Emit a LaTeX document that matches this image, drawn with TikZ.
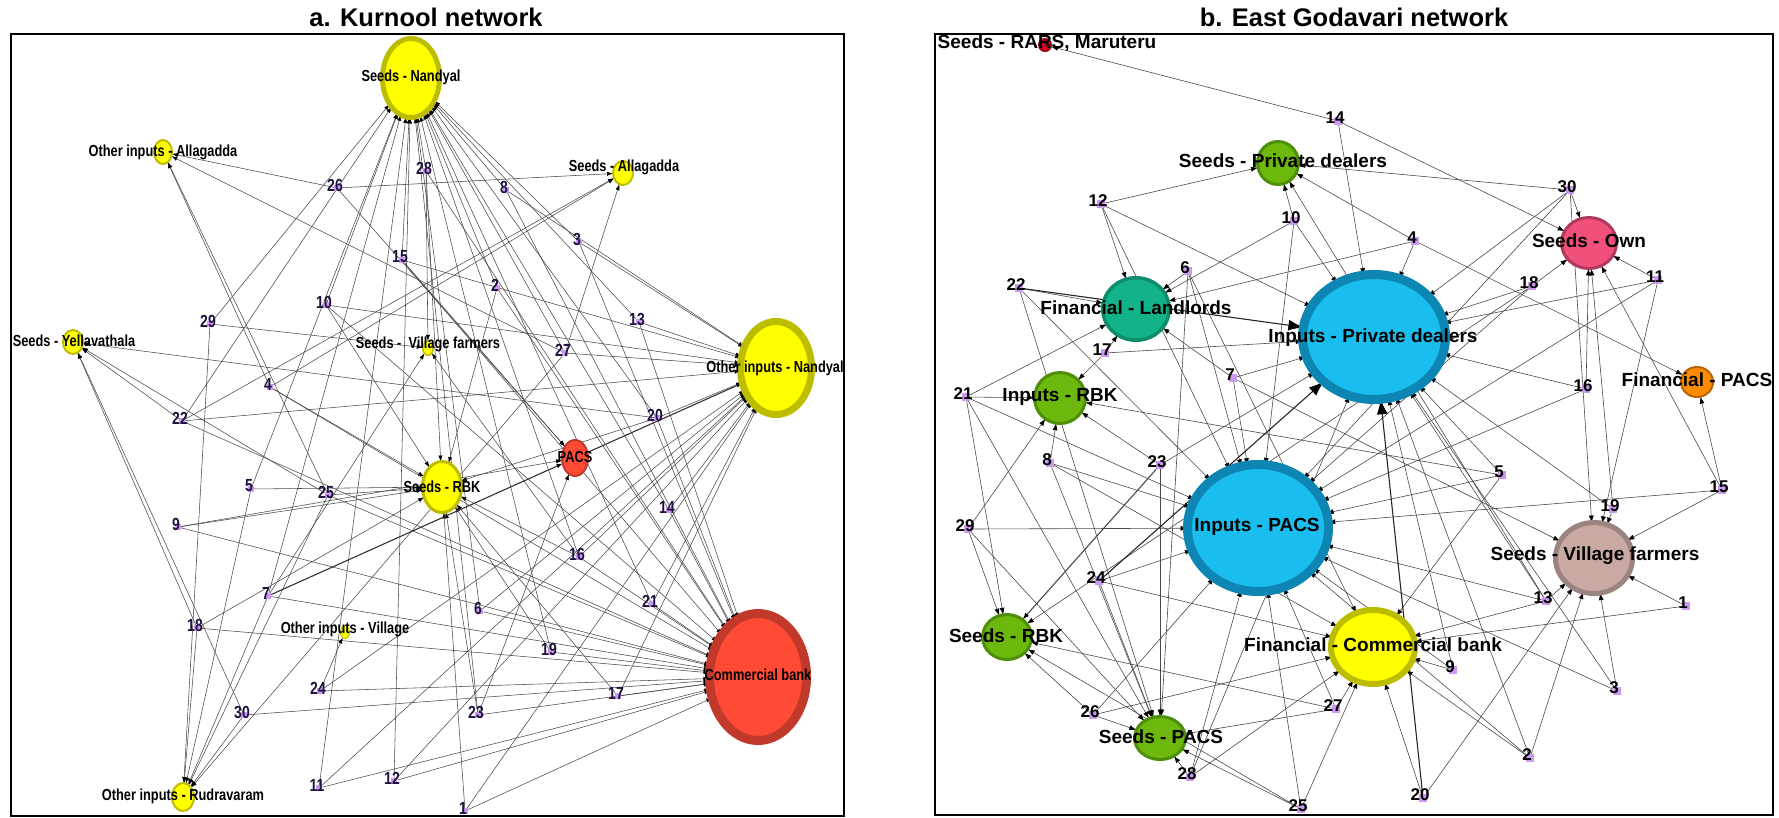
\documentclass[tikz,border=0pt]{standalone}
\usepackage{fontspec}
\setmainfont{Liberation Sans}
\newfontfamily\narrowfont[FakeStretch=0.8]{Liberation Sans}
\usetikzlibrary{shapes.geometric,arrows.meta}
\pgfdeclarelayer{edgelayer}
\pgfsetlayers{edgelayer,main}
\definecolor{yel}{HTML}{FFFF00}
\definecolor{olive}{HTML}{BDBD00}
\definecolor{redf}{HTML}{FF4B35}
\definecolor{redr}{HTML}{C0392B}
\definecolor{bluef}{HTML}{19BEEE}
\definecolor{bluer}{HTML}{0E86B3}
\definecolor{tealf}{HTML}{13B38A}
\definecolor{tealr}{HTML}{0E8C6C}
\definecolor{greenf}{HTML}{6CB80C}
\definecolor{greenr}{HTML}{4E8F0A}
\definecolor{pinkf}{HTML}{F0507A}
\definecolor{pinkr}{HTML}{B03A5E}
\definecolor{orf}{HTML}{FF8C00}
\definecolor{orr}{HTML}{B86400}
\definecolor{rosef}{HTML}{C9A9A3}
\definecolor{roser}{HTML}{9B8381}
\definecolor{rarsf}{HTML}{CC0022}
\definecolor{rarsr}{HTML}{990018}
\definecolor{violetm}{HTML}{CC99F0}
\definecolor{numcol}{HTML}{1F1240}
\definecolor{edgegray}{HTML}{4A4A4A}
\newcommand\mkhub[8]{\node[hubst, line width=#6pt, draw=#8, fill=#7,
  minimum width={(2*#4-#6)*1pt}, minimum height={(2*#5-#6)*1pt}] (#1) at (#2,#3) {};}
\newcommand\farmA[3]{\node[fa] (a#1) at (#2+2,#3+3) {};\node[na] (a#1l) at (#2,#3) {#1};}
\newcommand\farmB[3]{\node[fb] (b#1) at (#2+3,#3+3) {};\node[nb] (b#1l) at (#2,#3) {#1};}
\tikzset{
 hubst/.style={ellipse, inner sep=0pt, outer sep=0pt},
 llab/.style={font=\narrowfont\bfseries\fontsize{16}{16}\selectfont, text=black, inner sep=0pt},
 rlab/.style={font=\bfseries\fontsize{19}{19}\selectfont, text=black, inner sep=0pt},
 fa/.style={rectangle, fill=violetm, minimum size=6pt, inner sep=0pt},
 fb/.style={rectangle, fill=violetm, minimum size=8pt, inner sep=0pt},
 na/.style={font=\narrowfont\bfseries\fontsize{17.5}{17.5}\selectfont, text=numcol, inner sep=0pt},
 nb/.style={font=\bfseries\fontsize{17}{17}\selectfont, text=black, inner sep=0pt},
 ea/.style={draw=edgegray, line width=0.55pt, -{Latex[length=6pt,width=4.2pt,color=black]}},
 eb/.style={draw=edgegray, line width=0.6pt, -{Latex[length=7pt,width=5pt,color=black]}},
 eathick/.style={draw=black!80, line width=1.1pt, -{Latex[length=6pt,width=4.5pt,color=black]}},
 ebthick/.style={draw=black!85, line width=1.1pt, -{Latex[length=15pt,width=11pt,color=black]}},
 frame/.style={draw=black, line width=1.5pt},
 ttl/.style={font=\bfseries\fontsize{25.5}{26}\selectfont, inner sep=0pt}
}
\begin{document}
\begin{tikzpicture}[x=1pt,y=-1pt]
\useasboundingbox (0,0) rectangle (1779,817);
\begin{pgfonlayer}{edgelayer}
\fill[white] (0,0) rectangle (1779,817);
\end{pgfonlayer}
\node[ttl] (ta) at (426,17) {a. Kurnool network};
\node[ttl] (tb) at (1354,17) {b. East Godavari network};
\draw[frame] (11,34) rectangle (844,816);
\draw[frame] (935,34) rectangle (1773,815);
% ---------- left hubs
\mkhub{SN}{411}{78}{31}{42}{5}{yel}{olive}
\mkhub{OIA}{163}{152}{10}{13}{2}{yel}{olive}
\mkhub{SA}{623}{173}{11}{13}{2}{yel}{olive}
\mkhub{SY}{73}{342}{11}{13}{2}{yel}{olive}
\mkhub{SV}{428}{348}{6}{8}{1.5}{yel}{olive}
\mkhub{ON}{776}{368}{39}{50}{7}{yel}{olive}
\mkhub{PACS}{575}{458}{14}{19}{2}{redf}{redr}
\mkhub{RBK}{442}{487}{21}{27}{3}{yel}{olive}
\mkhub{CB}{758}{677}{53}{68}{9}{redf}{redr}
\mkhub{OV}{345}{632}{5}{7}{1}{yel}{olive}
\mkhub{OR}{183}{797}{12}{15}{2}{yel}{olive}
% ---------- left farmers
\farmA{1}{463}{808}\farmA{2}{495}{285}\farmA{3}{577}{239}\farmA{4}{268}{384}
\farmA{5}{249}{486}\farmA{6}{478}{608}\farmA{7}{266}{593}\farmA{8}{504}{187}
\farmA{9}{176}{524}\farmA{10}{324}{302}\farmA{11}{317}{785}\farmA{12}{392}{778}
\farmA{13}{637}{319}\farmA{14}{667}{507}\farmA{15}{400}{257}\farmA{16}{577}{554}
\farmA{17}{616}{693}\farmA{18}{195}{625}\farmA{19}{549}{649}\farmA{20}{655}{415}
\farmA{21}{650}{601}\farmA{22}{180}{418}\farmA{23}{476}{712}\farmA{24}{318}{688}
\farmA{25}{326}{492}\farmA{26}{335}{185}\farmA{27}{563}{350}\farmA{28}{424}{168}
\farmA{29}{208}{321}\farmA{30}{242}{712}
% ---------- right hubs
\mkhub{RARS}{1045}{45}{7}{7}{1.5}{rarsf}{rarsr}
\mkhub{SPD}{1278}{163}{22}{23}{3}{greenf}{greenr}
\mkhub{FL}{1136}{309}{35}{33}{3.5}{tealf}{tealr}
\mkhub{IRBK}{1060}{398}{27}{27}{3}{greenf}{greenr}
\mkhub{IPD}{1374}{337}{76}{67}{9}{bluef}{bluer}
\mkhub{SO}{1589}{243}{29}{27}{3}{pinkf}{pinkr}
\mkhub{FPACS}{1697}{382}{17}{16}{2}{orf}{orr}
\mkhub{IPACS}{1258}{528}{75}{68}{9}{bluef}{bluer}
\mkhub{SRBK}{1007}{637}{26}{24}{3}{greenf}{greenr}
\mkhub{SPACS}{1160}{738}{27}{23}{3}{greenf}{greenr}
\mkhub{FCB}{1373}{647}{45}{40}{6}{yel}{olive}
\mkhub{SVF}{1594}{558}{41}{38}{5}{rosef}{roser}
% ---------- right farmers
\farmB{1}{1683}{603}\farmB{2}{1527}{755}\farmB{3}{1614}{688}\farmB{4}{1412}{238}
\farmB{5}{1499}{472}\farmB{6}{1185}{268}\farmB{7}{1230}{375}\farmB{8}{1047}{460}
\farmB{9}{1450}{667}\farmB{10}{1291}{218}\farmB{11}{1655}{277}\farmB{12}{1098}{201}
\farmB{13}{1543}{598}\farmB{14}{1335}{118}\farmB{15}{1719}{487}\farmB{16}{1583}{386}
\farmB{17}{1102}{350}\farmB{18}{1529}{283}\farmB{19}{1610}{506}\farmB{20}{1420}{795}
\farmB{21}{963}{394}\farmB{22}{1016}{285}\farmB{23}{1157}{462}\farmB{24}{1096}{578}
\farmB{25}{1298}{806}\farmB{26}{1090}{712}\farmB{27}{1333}{706}\farmB{28}{1187}{774}
\farmB{29}{965}{526}\farmB{30}{1567}{187}
% ---------- edges
\begin{pgfonlayer}{edgelayer}
\foreach \f/\tl in {1/{CB,RBK,ON},2/{SN,CB,RBK},3/{SN,ON,CB},4/{SA,OIA,RBK,CB},
 5/{SN,RBK,OR},6/{SN,CB,ON},7/{CB,OR,SN,SV},8/{SN,CB,ON},9/{RBK,PACS,CB},
 10/{SN,RBK,ON,CB},11/{SN,CB,ON},12/{SN,CB,ON},13/{SN,ON,CB},14/{SN,ON,CB},
 15/{SN,PACS,ON,CB},16/{SN,ON,RBK,CB,SV},17/{CB,ON,RBK},18/{SY,RBK,CB,OR},
 19/{SN,CB,RBK},20/{SN,ON,CB,RBK,SY},21/{SN,CB,ON},22/{SY,SN,ON,SA,CB},
 23/{RBK,SN,CB,PACS},24/{CB,OV,ON},25/{RBK,SY,CB,OR,OIA},26/{OIA,SA,PACS},
 27/{SA,ON,SN,OR,OIA},28/{SN,RBK,CB,SV},29/{SV,SN,OR},30/{SY,CB,OR}}
 {\foreach \t in \tl {\draw[ea] (a\f) -- (\t);}}
\draw[eathick] (a7) -- (PACS);
\draw[eathick] (PACS) -- (ON);
\foreach \f/\tl in {1/{SVF,FCB},2/{SVF,FCB,IPD,IPACS},3/{SVF,IPACS,IPD},
 4/{SPD,IPD,FPACS,FL},5/{IPD,IPACS,FCB,IRBK},6/{FL,IPACS,SPACS,FCB},
 7/{IPD,FL,SVF,IPACS},8/{IRBK,IPACS,SPACS,FCB},9/{FCB,IPD,IPACS},
 10/{SPD,FL,IPD,IPACS},11/{SO,IPD,IPACS,SVF},12/{SPD,FL,IPD,IPACS},
 13/{SVF,FCB,IPD,IPACS,SPD},14/{RARS,SO,IPD},15/{SVF,IPACS,SO,FPACS},
 16/{IPD,SO,IPACS},17/{FL,IPD,IRBK},18/{IPD,SO,IPACS,SRBK},19/{SVF,SO,IPD},
 20/{FCB,SVF},21/{FL,IRBK,SRBK,SPACS,IPACS},22/{FL,SPACS,IPACS},
 23/{SPACS,IPD,IRBK},24/{IPACS,FCB,SPACS},25/{SPACS,IPACS,FCB,SRBK},
 26/{SPACS,IPACS,FCB,SRBK},27/{SRBK,SPACS,IPACS,FCB},28/{SPACS,IPACS,FCB,IPD},
 29/{IRBK,SRBK,IPACS,SPACS},30/{SPD,SO,IPD,IPACS,SVF}}
 {\foreach \t in \tl {\draw[eb] (b\f) -- (\t);}}
\draw[ebthick] (b20) -- (IPD);
\draw[ebthick] (b24) -- (IPD);
\draw[ebthick] (b22) -- (IPD);
\draw[eb, line width=1.1pt] (b23) -- (SRBK);
\end{pgfonlayer}
% ---------- hub labels
\node[llab] (SNl) at (411,77) {Seeds - Nandyal};
\node[llab] (OIAl) at (163,152) {Other inputs - Allagadda};
\node[llab] (SAl) at (624,167) {Seeds - Allagadda};
\node[llab] (SYl) at (74,341) {Seeds - Yellavathala};
\node[llab] (SVl) at (428,344) {Seeds - \ Village farmers};
\node[llab] (ONl) at (775,368) {Other inputs - Nandyal};
\node[llab] (PACSl) at (575,457) {PACS};
\node[llab] (RBKl) at (442,487) {Seeds - RBK};
\node[llab] (CBl) at (758,675) {Commercial bank};
\node[llab] (OVl) at (345,629) {Other inputs - Village};
\node[llab] (ORl) at (183,796) {Other inputs - Rudravaram};
\node[rlab] (RARSl) at (1047,43) {Seeds - RARS, Maruteru};
\node[rlab] (SPDl) at (1283,161) {Seeds - Private dealers};
\node[rlab] (FLl) at (1136,308) {Financial - Landlords};
\node[rlab] (IRBKl) at (1060,397) {Inputs - RBK};
\node[rlab] (IPDl) at (1373,338) {Inputs - Private dealers};
\node[rlab] (SOl) at (1589,241) {Seeds - Own};
\node[rlab] (FPACSl) at (1697,380) {Financial - PACS};
\node[rlab] (IPACSl) at (1257,527) {Inputs - PACS};
\node[rlab] (SRBKl) at (1006,636) {Seeds - RBK};
\node[rlab] (SPACSl) at (1161,737) {Seeds - PACS};
\node[rlab] (FCBl) at (1373,645) {Financial - Commercial bank};
\node[rlab] (SVFl) at (1595,556) {Seeds - Village farmers};
\end{tikzpicture}
\end{document}
